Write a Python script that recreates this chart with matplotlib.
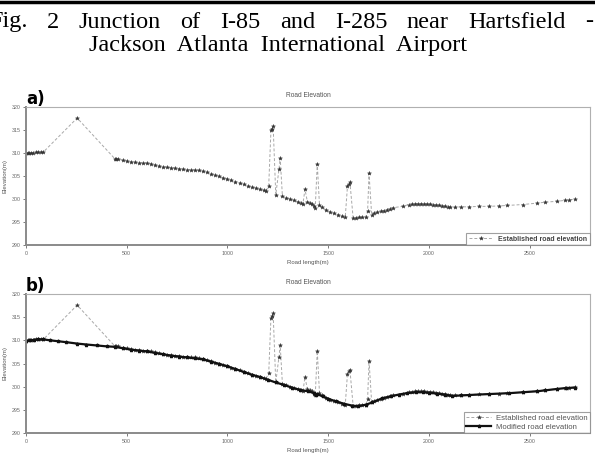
import matplotlib
matplotlib.use("Agg")
import matplotlib.pyplot as plt

# === Data (road length in m, elevation in m) ===
est_x = [0, 8, 15, 25, 35, 50, 60, 72, 86,
         254,
         440, 448, 458, 480, 500, 520, 540, 560, 580, 600, 620, 640, 660, 680,
         700, 720, 740, 760, 780, 800, 820, 840, 860, 880, 900, 920, 940, 960,
         980, 1000, 1020, 1040, 1060, 1080, 1100, 1120, 1140, 1160, 1180, 1191,
         1205, 1216, 1222, 1227, 1240, 1256, 1262, 1273,
         1290, 1310, 1330, 1350, 1365, 1375, 1385, 1397, 1410, 1422, 1432, 1436,
         1446, 1457, 1470, 1490, 1510, 1530, 1550, 1570, 1585,
         1596, 1604, 1608, 1624, 1640, 1655, 1670, 1686, 1696, 1703, 1716,
         1730, 1745, 1760, 1775, 1790, 1805, 1820,
         1870, 1900, 1915, 1930, 1945, 1960, 1975, 1990, 2005, 2020, 2035,
         2050, 2065, 2080, 2095, 2107,
         2130, 2160, 2200, 2250, 2300, 2350, 2390, 2467, 2536, 2577, 2635,
         2676, 2698, 2726]
est_y = [309.9, 310.0, 310.0, 310.1, 310.1, 310.2, 310.2, 310.2, 310.2,
         317.6,
         308.8, 308.7, 308.7, 308.4, 308.3, 308.1, 308.0, 307.9, 307.8, 307.8,
         307.7, 307.4, 307.2, 307.0, 306.9, 306.8, 306.7, 306.6, 306.5, 306.4,
         306.3, 306.3, 306.2, 306.0, 305.8, 305.5, 305.2, 304.9, 304.6, 304.4,
         304.1, 303.8, 303.5, 303.2, 302.9, 302.6, 302.4, 302.1, 301.9, 301.7,
         302.9, 314.9, 315.3, 315.8, 300.9, 306.5, 308.9, 300.6,
         300.3, 300.0, 299.7, 299.4, 299.2, 299.0, 302.1, 299.4, 299.2, 299.0,
         298.4, 298.1,
         307.7, 298.7, 298.2, 297.6, 297.2, 296.9, 296.6, 296.3, 296.1,
         302.8, 303.3, 303.7, 295.9, 295.9, 296.0, 296.0, 296.0, 297.4, 305.6,
         296.6, 296.9, 297.1, 297.3, 297.5, 297.7, 297.9, 298.1,
         298.4, 298.8, 298.9, 299.0, 299.0, 299.0, 299.0, 298.9, 298.9, 298.8,
         298.7, 298.6, 298.5, 298.4, 298.3, 298.2,
         298.2, 298.3, 298.3, 298.4, 298.4, 298.5, 298.6, 298.8, 299.1, 299.3,
         299.5, 299.7, 299.8, 300.0]

mod_x = [0, 20, 40, 60, 86, 120, 160, 200, 254, 300, 350, 400, 441, 480, 520,
         560, 600, 640, 680, 720, 760, 800, 840, 878, 920, 960, 1000, 1040,
         1080, 1120, 1160, 1200, 1240, 1280, 1320, 1360, 1400, 1431, 1439,
         1446, 1472, 1500, 1540, 1580, 1620, 1650, 1686, 1720, 1769, 1810,
         1851, 1890, 1934, 1970, 2000, 2040, 2080, 2115, 2160, 2200, 2297,
         2400, 2467, 2536, 2577, 2635, 2680, 2726]
mod_y = [309.8, 310.0, 310.1, 310.2, 310.2, 310.0, 309.8, 309.6, 309.3, 309.1,
         308.9, 308.7, 308.6, 308.3, 308.0, 307.8, 307.6, 307.3, 307.0, 306.7,
         306.5, 306.3, 306.1, 305.9, 305.4, 304.9, 304.4, 303.8, 303.2, 302.6,
         302.1, 301.5, 300.9, 300.4, 299.8, 299.3, 299.0, 298.6, 298.1, 298.4,
         297.9, 297.4, 296.8, 296.3, 295.9, 295.8, 296.1, 296.6, 297.5, 297.9,
         298.3, 298.6, 298.8, 298.8, 298.7, 298.5, 298.3, 298.0, 298.1, 298.2,
         298.4, 298.6, 298.8, 299.0, 299.2, 299.5, 299.7, 299.8]

x_ticks = [0, 500, 1000, 1500, 2000, 2500]
y_ticks = [290, 295, 300, 305, 310, 315, 320]

caption_1 = "Fig. 2 Junction of I-85 and I-285 near Hartsfield -"
caption_2 = "Jackson  Atlanta  International  Airport"

W, H = 595, 459
plt.rcParams['font.family'] = ['Liberation Sans', 'DejaVu Sans']
fig = plt.figure(figsize=(W / 100, H / 100), dpi=100)


def box(left, top, right, bottom):
    return [left / W, 1 - bottom / H, (right - left) / W, (bottom - top) / H]


def style_axes(ax, label):
    ax.set_xlim(0, 2800)
    ax.set_ylim(290, 320)
    ax.set_xticks(x_ticks)
    ax.set_yticks(y_ticks)
    ax.tick_params(labelsize=3.8, colors='#666666', length=2, width=0.6, pad=2)
    for s in ['top', 'right']:
        ax.spines[s].set_color('#b0b0b0')
        ax.spines[s].set_linewidth(0.8)
    for s in ['left', 'bottom']:
        ax.spines[s].set_color('#8a8a8a')
        ax.spines[s].set_linewidth(1.4)
    ax.set_title("Road Elevation", fontsize=4.8, color='#555555', pad=7)
    ax.set_xlabel("Road length(m)", fontsize=4.3, color='#555555', labelpad=3)
    ax.set_ylabel("Elevation(m)", fontsize=4.3, color='#555555', labelpad=3)
    ax.text(0.0, 0.99, label, transform=ax.transAxes, fontsize=12,
            fontweight='bold', ha='left', va='bottom', family='DejaVu Sans')


est_style = dict(color='#a8a8a8', ls=(0, (3, 2)), lw=0.7, marker='*',
                 ms=3, mfc='#333333', mec='#333333', mew=0.3)

# === a) established only ===
ax1 = fig.add_axes(box(26, 107, 590, 245))
ax1.plot(est_x, est_y, label='Established road elevation', **est_style)
style_axes(ax1, 'a)')
leg = ax1.legend(loc='lower right', bbox_to_anchor=(1.0, 0.0), borderaxespad=0,
                 frameon=True, fancybox=False, handlelength=3.5, handletextpad=0.8,
                 borderpad=0.35, prop={'size': 5, 'weight': 'bold'})
leg.get_frame().set_edgecolor('#888888')
leg.get_frame().set_linewidth(0.8)
for t in leg.get_texts():
    t.set_color('#444444')

# === b) established + modified ===
ax2 = fig.add_axes(box(26, 294, 590, 433))
ax2.plot(est_x, est_y, label='Established road elevation', **est_style)
ax2.plot(mod_x, mod_y, color='#111111', lw=1.6, marker='*', ms=2.5,
         label='Modified road elevation')
style_axes(ax2, 'b)')
leg2 = ax2.legend(loc='lower right', bbox_to_anchor=(1.0, 0.0), borderaxespad=0,
                  fontsize=5.6, frameon=True, fancybox=False, handlelength=3.2,
                  handletextpad=0.6, borderpad=0.3, labelspacing=0.15)
leg2.get_frame().set_edgecolor('#888888')
leg2.get_frame().set_linewidth(0.8)
for t in leg2.get_texts():
    t.set_color('#555555')

# === caption (first line justified, second centred) ===
fig.add_artist(plt.Line2D([0, 1], [1 - 1.5 / H, 1 - 1.5 / H], color='black', lw=2.5))
renderer = fig.canvas.get_renderer()
words = caption_1.split()
texts = [fig.text(0, 1 - 22 / H, w, fontsize=17.5, family='Liberation Serif',
                  ha='left', va='center') for w in words]
widths = [t.get_window_extent(renderer).width for t in texts]
x0, x1 = -11, 593
gap = (x1 - x0 - sum(widths)) / (len(words) - 1)
xp = x0
for t, w in zip(texts, widths):
    t.set_x(xp / W)
    xp += w + gap
fig.text(278 / W, 1 - 45 / H, caption_2, fontsize=17.5,
         family='Liberation Serif', ha='center', va='center')

fig.savefig('out.png', dpi=100)
